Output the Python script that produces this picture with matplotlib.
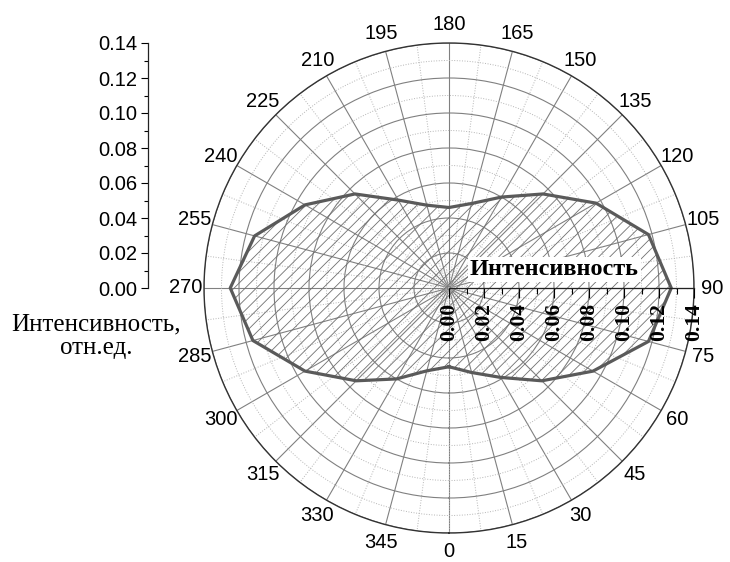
import numpy as np
import matplotlib
matplotlib.use("Agg")
import matplotlib.pyplot as plt
from matplotlib.ticker import MultipleLocator, FormatStrFormatter
from matplotlib.transforms import ScaledTranslation

# DATA
angles_deg = [0, 15, 30, 45, 60, 75, 90, 105, 120, 135, 150, 165,
              180, 195, 210, 225, 240, 255, 270, 285, 300, 315, 330, 345]
intensity  = [0.045, 0.050, 0.059, 0.075, 0.095, 0.118, 0.127, 0.118,
              0.097, 0.076, 0.060, 0.050, 0.046, 0.049, 0.058, 0.076,
              0.095, 0.115, 0.125, 0.116, 0.095, 0.075, 0.060, 0.049]
r_max      = 0.14
theta_ticks = list(range(0, 360, 15))
r_ticks     = [0.00, 0.02, 0.04, 0.06, 0.08, 0.10, 0.12, 0.14]

plt.rcParams['hatch.linewidth'] = 0.6

SERIF = ['Liberation Serif', 'DejaVu Serif']
SANS  = ['Liberation Sans', 'DejaVu Sans']

fig = plt.figure(figsize=(7.3, 5.62), dpi=100)

# polar area: centre (449, 288) px, radius 245 px
cx, cy, rad = 449 / 730, 1 - 288 / 562, 245
w, h = rad / 730, rad / 562
ax = fig.add_axes([cx - w, cy - h, 2 * w, 2 * h], projection='polar')
ax.set_theta_zero_location('S')
ax.set_theta_direction(1)
ax.set_ylim(0, r_max)

th = np.deg2rad(angles_deg + [angles_deg[0]])
rr = intensity + [intensity[0]]
ax.fill(th, rr, facecolor='none', edgecolor='#707070', hatch='///',
        linewidth=0, zorder=2)
ax.plot(th, rr, color='#5a5a5a', lw=2.3, zorder=3)

# grid
ax.set_xticks(np.deg2rad(theta_ticks))
ax.set_xticklabels([str(t) for t in theta_ticks], fontfamily=SANS,
                   fontsize=14.5)
ax.xaxis.set_minor_locator(MultipleLocator(np.deg2rad(7.5)))
ax.set_yticks(r_ticks)
ax.yaxis.set_minor_locator(MultipleLocator(0.01))
ax.set_yticklabels([])
ax.grid(which='major', color='#808080', lw=0.8, ls='-')
ax.grid(which='minor', color='#b5b5b5', lw=0.7, ls=':')
ax.tick_params(axis='x', which='major', pad=6, size=0)
ax.tick_params(axis='x', which='minor', direction='in', size=4,
               color='#333333')
ax.tick_params(axis='y', which='both', size=0)
ax.spines['polar'].set_color('#333333')
ax.spines['polar'].set_linewidth(1.0)
ax.set_axisbelow(True)

# radial scale drawn along 90 degrees
axr = fig.add_axes([cx, cy, w, 0.0001])
axr.set_xlim(0, r_max)
axr.patch.set_visible(False)
for s in ['top', 'left', 'right']:
    axr.spines[s].set_visible(False)
axr.spines['bottom'].set_color('#222222')
axr.spines['bottom'].set_linewidth(0.9)
axr.set_yticks([])
axr.set_xticks(r_ticks)
axr.xaxis.set_minor_locator(MultipleLocator(0.01))
axr.xaxis.set_major_formatter(FormatStrFormatter('%.2f'))
axr.tick_params(axis='x', which='major', direction='out', length=7,
                width=0.8, pad=4)
axr.tick_params(axis='x', which='minor', direction='out', length=4,
                width=0.8)
for lab in axr.get_xticklabels():
    lab.set_rotation(90)
    lab.set_fontfamily(SERIF)
    lab.set_fontweight('bold')
    lab.set_fontsize(15.5)
axr.text(0.43, 0, 'Интенсивность',
         transform=axr.transAxes + ScaledTranslation(0, 8 / 100,
                                                     fig.dpi_scale_trans),
         ha='center', va='bottom', fontfamily=SERIF, fontweight='bold',
         fontsize=17.5,
         bbox=dict(facecolor='white', edgecolor='none', pad=1.5))

# left linear scale
axl = fig.add_axes([148 / 730, cy, 0.0001, h])
axl.set_ylim(0, r_max)
axl.patch.set_visible(False)
for s in ['top', 'bottom', 'right']:
    axl.spines[s].set_visible(False)
axl.spines['left'].set_color('#222222')
axl.spines['left'].set_linewidth(0.9)
axl.set_xticks([])
axl.set_yticks(r_ticks)
axl.yaxis.set_minor_locator(MultipleLocator(0.01))
axl.yaxis.set_major_formatter(FormatStrFormatter('%.2f'))
axl.tick_params(axis='y', which='major', direction='out', length=5,
                width=0.8, pad=3, labelsize=14.5)
axl.tick_params(axis='y', which='minor', direction='out', length=3,
                width=0.8)
for lab in axl.get_yticklabels():
    lab.set_fontfamily(SANS)

fig.text(96 / 730, 1 - 336 / 562, 'Интенсивность,\nотн.ед.',
         ha='center', va='center', multialignment='center',
         fontfamily=SERIF, fontsize=18, linespacing=1.1)

fig.savefig('out.png', dpi=100)
